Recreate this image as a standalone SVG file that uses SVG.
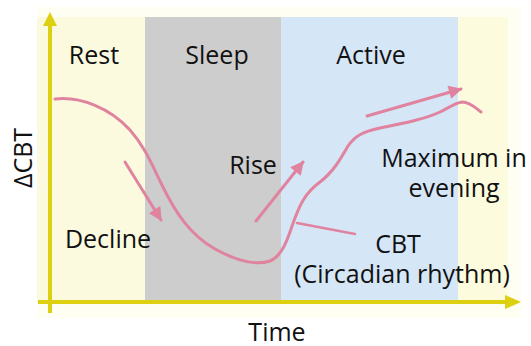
<svg xmlns="http://www.w3.org/2000/svg" width="531" height="346" viewBox="0 0 531 346">
<style>
text{font-family:"Open Sans","Noto Sans","DejaVu Sans",sans-serif;font-size:25px;fill:#111;text-anchor:middle}
.axis{stroke:#DDD010;stroke-width:4;fill:none}
.pink{stroke:#E0839F;fill:none;stroke-linecap:round}
</style>
<defs>
<marker id="ah" viewBox="0 0 10 10" refX="9" refY="5" markerWidth="5" markerHeight="4.5" orient="auto" markerUnits="strokeWidth">
<path d="M0,0 L10,5 L0,10 Z" fill="#E0839F"/>
</marker>
</defs>
<rect width="531" height="346" fill="#fff"/>
<g id="background">
<rect x="37" y="7" width="484" height="311" fill="#FEFEF2"/>
<rect id="rest-band" x="37" y="17" width="108" height="285" fill="#FBFADF"/>
<rect id="sleep-band" x="145" y="17" width="136" height="285" fill="#CDCDCD"/>
<rect id="active-band" x="281" y="17" width="177" height="285" fill="#D5E6F7"/>
<rect id="evening-band" x="458" y="17" width="50" height="285" fill="#FDFBDE"/>
</g>
<g id="axes">
<line class="axis" x1="50" y1="313" x2="50" y2="24"/>
<path d="M43,26 L50,12 L57,26 Z" fill="#DDD010"/>
<line class="axis" x1="38" y1="302" x2="507" y2="302"/>
<path d="M505,295 L521,302 L505,309 Z" fill="#DDD010"/>
</g>
<g id="connectors">
<path id="cbt-curve" class="pink" stroke-width="3" d="M55,99 C80,96 110,108 130,130 C145,147 152,165 162,185 C175,212 190,235 215,249 C235,260 255,266 270,261 C285,255 290,230 295,218 C300,205 305,193 320,182 C333,172 340,160 348,146 C355,136 362,132 380,128 C405,123 425,119 440,112 C450,107 455,103 462,102 C470,102 476,108 481,112"/>
<line id="decline-arrow" class="pink" stroke-width="3" x1="125" y1="162" x2="161" y2="220" marker-end="url(#ah)"/>
<line id="rise-arrow" class="pink" stroke-width="3" x1="256" y1="221" x2="303" y2="162" marker-end="url(#ah)"/>
<line id="max-arrow" class="pink" stroke-width="3" x1="367" y1="116" x2="461" y2="89" marker-end="url(#ah)"/>
<line id="cbt-pointer" class="pink" stroke-width="2.5" x1="297" y1="223" x2="355" y2="234"/>
</g>
<g id="label-rest"><text x="94" y="64">Rest</text></g>
<g id="label-sleep"><text x="217" y="64">Sleep</text></g>
<g id="label-active"><text x="371" y="64">Active</text></g>
<g id="label-rise"><text x="253" y="174">Rise</text></g>
<g id="label-decline"><text x="108" y="248">Decline</text></g>
<g id="label-max"><text x="454" y="167">Maximum in</text><text x="454" y="197">evening</text></g>
<g id="label-cbt"><text x="398" y="253">CBT</text><text x="402" y="283">(Circadian rhythm)</text></g>
<g id="label-time"><text x="277" y="341">Time</text></g>
<g id="label-ycbt"><text transform="translate(32,158) rotate(-90)">ΔCBT</text></g>
</svg>
